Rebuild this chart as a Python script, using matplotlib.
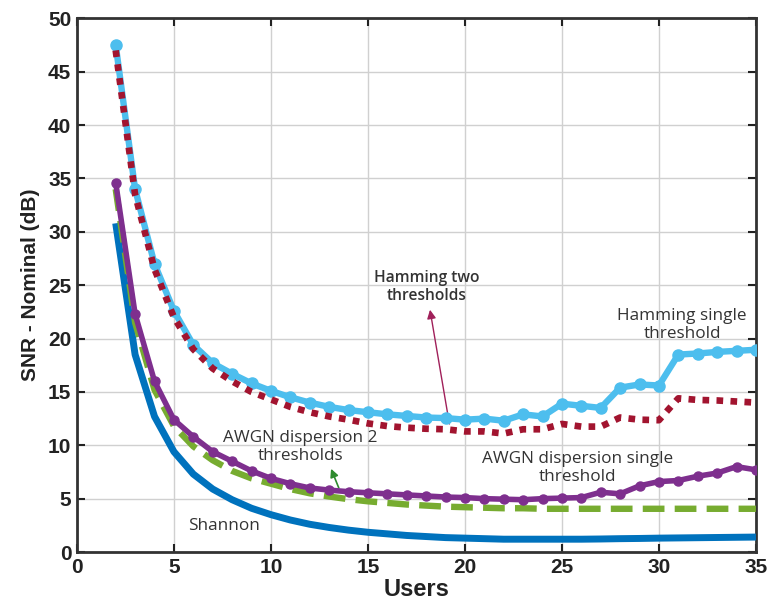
import matplotlib
matplotlib.use("Agg")
import matplotlib.pyplot as plt
import numpy as np

users = list(range(2, 36))

hamming_single = [47.5, 34.0, 27.0, 22.6, 19.4, 17.7, 16.7, 15.8, 15.1, 14.5, 14.0, 13.6,
                  13.3, 13.1, 12.9, 12.75, 12.6, 12.55, 12.4, 12.5, 12.3, 12.9, 12.7, 13.9,
                  13.7, 13.5, 15.4, 15.7, 15.6, 18.5, 18.6, 18.75, 18.85, 18.95]
hamming_two = [47.0, 33.5, 26.5, 22.0, 19.0, 17.2, 16.0, 15.0, 14.3, 13.6, 13.1, 12.7,
               12.4, 12.05, 11.8, 11.65, 11.55, 11.5, 11.3, 11.3, 11.1, 11.5, 11.5, 12.0,
               11.75, 11.75, 12.6, 12.4, 12.35, 14.4, 14.25, 14.2, 14.1, 14.0]
awgn_single = [34.6, 22.3, 16.0, 12.4, 10.8, 9.4, 8.5, 7.6, 6.9, 6.4, 6.0, 5.8,
               5.65, 5.55, 5.45, 5.35, 5.25, 5.15, 5.1, 5.0, 4.95, 4.9, 5.0, 5.05,
               5.1, 5.6, 5.45, 6.2, 6.6, 6.7, 7.1, 7.4, 8.0, 7.7]
awgn_two = [34.0, 21.5, 15.2, 11.8, 9.9, 8.6, 7.6, 6.9, 6.4, 5.9, 5.5, 5.2,
            4.95, 4.75, 4.6, 4.45, 4.35, 4.25, 4.2, 4.15, 4.1, 4.1, 4.05, 4.05,
            4.05, 4.05, 4.05, 4.05, 4.05, 4.05, 4.05, 4.05, 4.05, 4.05]
shannon = [30.8, 18.5, 12.7, 9.4, 7.3, 5.9, 4.9, 4.1, 3.5, 3.0, 2.6, 2.3,
           2.05, 1.85, 1.7, 1.55, 1.45, 1.35, 1.3, 1.25, 1.2, 1.2, 1.2, 1.2,
           1.2, 1.22, 1.25, 1.27, 1.3, 1.32, 1.34, 1.36, 1.38, 1.4]

x_ticks = [0, 5, 10, 15, 20, 25, 30, 35]
y_ticks = [0, 5, 10, 15, 20, 25, 30, 35, 40, 45, 50]

c_shannon = "#0072BD"
c_green = "#77AC30"
c_purple = "#7E2F8E"
c_lblue = "#4DBEEE"
c_maroon = "#A2142F"

fig = plt.figure(figsize=(7.69, 6.13), dpi=100)
ax = fig.add_axes([0.100, 0.0995, 0.883, 0.8705])

ax.plot(users, shannon, color=c_shannon, lw=5.0, solid_capstyle="butt", zorder=3)
ax.plot(users, awgn_two, color=c_green, lw=4.6, linestyle=(0, (3.4, 1.6)),
        dash_capstyle="butt", zorder=3)
ax.plot(users, awgn_single, color=c_purple, lw=4.0, marker="o", ms=6.5, zorder=4)
ax.plot(users, hamming_single, color=c_lblue, lw=4.6, marker="o", ms=8,
        markerfacecolor=c_lblue, zorder=4)
ax.plot(users, hamming_two, color=c_maroon, lw=4.8, linestyle=(0, (1, 1.1)),
        dash_capstyle="butt", zorder=5)

ax.set_xlim(0, 35)
ax.set_ylim(0, 50)
ax.set_xticks(x_ticks)
ax.set_yticks(y_ticks)

tick_font = dict(family=["Liberation Sans", "DejaVu Sans"], weight="bold", size=15)
ax.set_xticklabels([str(v) for v in x_ticks], **tick_font)
ax.set_yticklabels([str(v) for v in y_ticks], **tick_font)
ax.tick_params(direction="in", length=6, width=1.5, top=True, right=True,
               pad=4, colors="#222222")
for s in ax.spines.values():
    s.set_linewidth(2.0)
    s.set_color("#333333")
ax.grid(True, color="#d0d0d0", lw=1.0)
ax.set_axisbelow(True)

ax.set_xlabel("Users", family=["Liberation Sans", "DejaVu Sans"],
              weight="bold", size=17, labelpad=1, color="#222222")
ax.set_ylabel("SNR - Nominal (dB)", family=["Liberation Sans", "DejaVu Sans"],
              weight="bold", size=15, labelpad=6, color="#222222")

note_font = dict(family=["Open Sans", "DejaVu Sans"], size=12.3, color="#333333",
                 ha="center", va="center", linespacing=1.15)

ax.text(18.05, 24.8, "Hamming two\nthresholds", fontweight="semibold",
        **{**note_font, "size": 11.2})
ax.annotate("", xy=(18.2, 22.7), xytext=(19.2, 12.0),
            arrowprops=dict(arrowstyle="-|>", color="#A0205A", lw=1.0,
                            mutation_scale=13, shrinkA=0, shrinkB=0))
ax.text(31.2, 21.3, "Hamming single\nthreshold", **note_font)
ax.text(25.8, 7.9, "AWGN dispersion single\nthreshold", **note_font)
ax.text(11.5, 9.85, "AWGN dispersion 2\nthresholds", **note_font)
ax.annotate("", xy=(13.1, 7.8), xytext=(13.5, 6.0),
            arrowprops=dict(arrowstyle="-|>", color="#2E8B2E", lw=1.2,
                            mutation_scale=12, shrinkA=0, shrinkB=0))
ax.text(7.6, 2.4, "Shannon", **note_font)

fig.savefig("out.png", dpi=100)
